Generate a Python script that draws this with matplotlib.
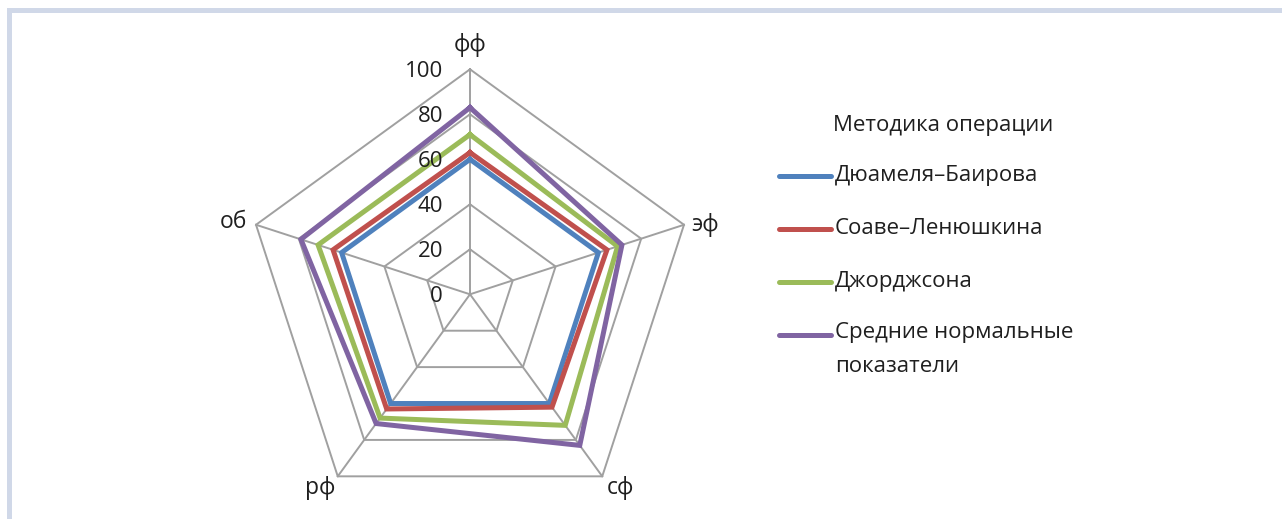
import numpy as np
import matplotlib
matplotlib.use("Agg")
import matplotlib.pyplot as plt
from matplotlib.patches import Rectangle
from matplotlib.lines import Line2D

plt.rcParams['font.family'] = ['Open Sans', 'DejaVu Sans']

# Radar axes (clockwise from top)
axes_labels = ["фф", "эф", "сф", "рф", "об"]
grid_levels = [0, 20, 40, 60, 80, 100]
tick_labels = ["0", "20", "40", "60", "80", "100"]

series_names = ["Дюамеля–Баирова", "Соаве–Ленюшкина", "Джорджсона",
                "Средние нормальные\nпоказатели"]
duamel = [60, 60, 60, 60, 60]
soave = [63, 64, 62, 63, 64]
georgson = [71, 69, 72, 68, 71]
normal = [83, 71, 83, 71, 79]
series_values = [duamel, soave, georgson, normal]
series_colors = ["#4f81bd", "#c0504d", "#9bbb59", "#8064a2"]
legend_title = "Методика операции"

W, H = 1282, 519
fig = plt.figure(figsize=(W / 100, H / 100), dpi=100)
fig.patch.set_facecolor("white")

# light frame along the top and left edges
fig.patches.append(Rectangle((7 / W, 0), 5 / W, (H - 8) / H, transform=fig.transFigure,
                             facecolor="#d0d8e8", edgecolor="none"))
fig.patches.append(Rectangle((7 / W, (H - 13) / H), (W - 7) / W, 5 / H, transform=fig.transFigure,
                             facecolor="#d0d8e8", edgecolor="none"))

cx, cy, R = 470, H - 294.3, 225
ax = fig.add_axes([(cx - R) / W, (cy - R) / H, 2 * R / W, 2 * R / H])
ax.set_xlim(-100, 100)
ax.set_ylim(-100, 100)
ax.axis("off")

n = len(axes_labels)
angles = np.pi / 2 - np.arange(n) * 2 * np.pi / n


def to_xy(vals):
    v = np.asarray(vals, dtype=float)
    x = v * np.cos(angles)
    y = v * np.sin(angles)
    return np.append(x, x[0]), np.append(y, y[0])


grid_color = "#a0a0a0"
for lvl in grid_levels[1:]:
    gx, gy = to_xy([lvl] * n)
    ax.plot(gx, gy, color=grid_color, lw=1.4, clip_on=False, zorder=1)
for a in angles:
    ax.plot([0, 100 * np.cos(a)], [0, 100 * np.sin(a)], color=grid_color, lw=1.4,
            clip_on=False, zorder=1)

for vals, col in zip(series_values, series_colors):
    sx, sy = to_xy(vals)
    ax.plot(sx, sy, color=col, lw=3.6, solid_joinstyle="miter", clip_on=False, zorder=3)

txt_color = "#1f1f1f"

# radial tick labels
for lvl, lab in zip(grid_levels, tick_labels):
    ax.text(-12, lvl - 1, lab, ha="right", va="center", fontsize=16, color=txt_color, zorder=4)

# axis category labels
lab_pos = [(0, 111, "center", "center"),
           (98.5, 31, "left", "center"),
           (61, -86, "left", "center"),
           (-60, -86, "right", "center"),
           (-99, 32, "right", "center")]
for name, (x, y, ha, va) in zip(axes_labels, lab_pos):
    ax.text(x, y, name, ha=ha, va=va, fontsize=16.5, color=txt_color)

# legend
fig.text(833 / W, 1 - 125 / H, legend_title, ha="left", va="center", fontsize=16, color=txt_color)
ys = [176, 229, 282, 335]
for name, col, yy in zip(series_names, series_colors, ys):
    fig.lines.append(Line2D([779 / W, 831 / W], [1 - yy / H, 1 - yy / H], transform=fig.transFigure,
                            color=col, lw=3.6, solid_capstyle="round"))
    multi = "\n" in name
    fig.text(835 / W, 1 - (yy - 13) / H if multi else 1 - yy / H, name,
             ha="left", va="top" if multi else "center", fontsize=16,
             color=txt_color, linespacing=1.8)

fig.savefig("out.png", dpi=100, facecolor="white")
